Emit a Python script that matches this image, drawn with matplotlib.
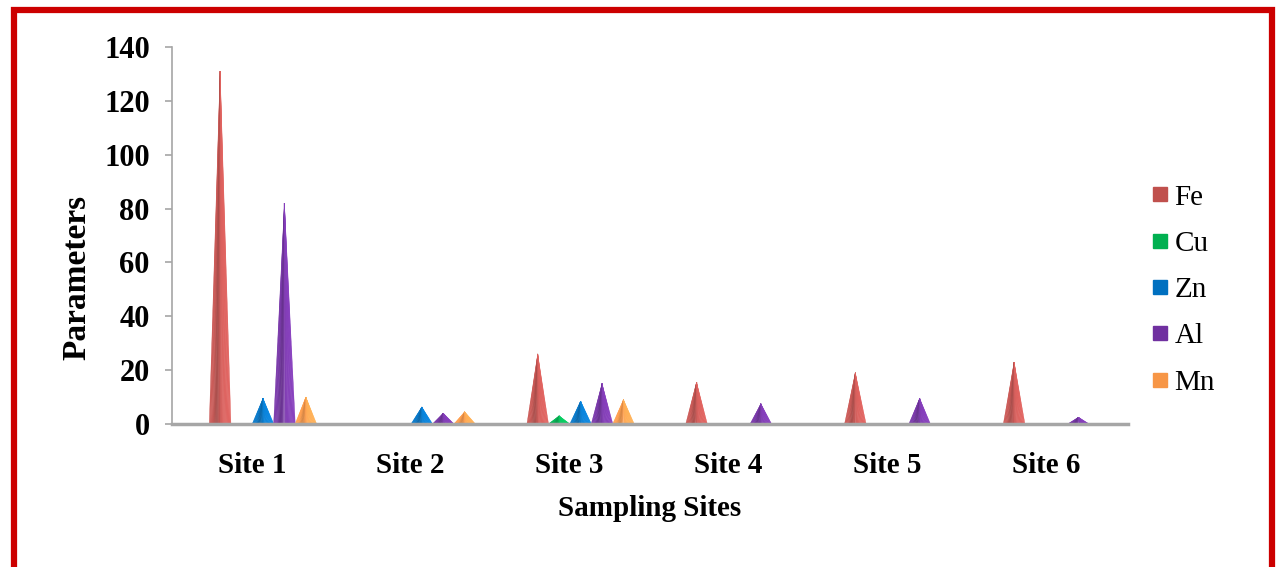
import numpy as np
import matplotlib
matplotlib.use('Agg')
import matplotlib.pyplot as plt
from matplotlib.patches import Polygon, Rectangle
from matplotlib.lines import Line2D
from matplotlib.colors import to_rgb

# data
sites = ['Site 1', 'Site 2', 'Site 3', 'Site 4', 'Site 5', 'Site 6']
metals = ['Fe', 'Cu', 'Zn', 'Al', 'Mn']
fe = [131, 0, 26, 15.5, 19, 23]
cu = [0, 0, 3, 0, 0, 0]
zn = [9.5, 6.3, 8.5, 0, 0, 0]
al = [82, 4, 15, 7.5, 9.5, 2.5]
mn = [10, 4.5, 9, 0, 0, 0]
series = [fe, cu, zn, al, mn]
colors = ['#C0504D', '#00B050', '#0070C0', '#7030A0', '#F79646']

plt.rcParams['font.family'] = 'Liberation Serif'

fig = plt.figure(figsize=(12.77, 5.67), dpi=100)
ax = fig.add_axes([172 / 1277, 1 - 424 / 567, (1128 - 172) / 1277, (424 - 47) / 567])

step = 0.135
half_w = 0.068


def draw_cone(ax, xc, h, color):
    # shaded cone: thin triangles from base strips to the apex
    base = np.array(to_rgb(color))
    n = 24
    edges = np.linspace(xc - half_w, xc + half_w, n + 1)
    for k in range(n):
        t = (k + 0.5) / n * 2 - 1
        f = 1.08 + 0.06 * t - 0.22 * np.exp(-((t + 0.3) / 0.3) ** 2)
        c = np.clip(base * f + 0.03, 0, 1)
        ax.add_patch(Polygon([(edges[k], 0), (edges[k + 1], 0), (xc, h)],
                             closed=True, facecolor=c, edgecolor=c, lw=0.3))


for j, vals in enumerate(series):
    for i, v in enumerate(vals):
        if v > 0:
            draw_cone(ax, i + (j - 2) * step, v, colors[j])

ax.set_xlim(-0.573, 5.447)
ax.set_ylim(0, 140)
ax.set_yticks(range(0, 141, 20))
ax.set_xticks([i - 0.07 for i in range(len(sites))])
ax.set_xticklabels(sites)

for s in ['top', 'right']:
    ax.spines[s].set_visible(False)
ax.spines['left'].set_color('#A6A6A6')
ax.spines['left'].set_linewidth(1.2)
ax.spines['bottom'].set_color('#A6A6A6')
ax.spines['bottom'].set_linewidth(2.5)

ax.tick_params(axis='y', colors='#A6A6A6', length=5, width=1.2, pad=11,
               labelcolor='black', labelsize=22)
ax.tick_params(axis='x', length=0, pad=20, labelsize=21)
for lab in ax.get_xticklabels() + ax.get_yticklabels():
    lab.set_fontweight('bold')

ax.set_xlabel('Sampling Sites', fontsize=21, fontweight='bold', labelpad=12)
ax.set_ylabel('Parameters', fontsize=24, fontweight='bold')
ax.yaxis.set_label_coords((92 - 172) / 956, (424 - 277) / 377)

handles = [Line2D([], [], marker='s', linestyle='none', markersize=10,
                  markerfacecolor=c, markeredgecolor=c) for c in colors]
fig.legend(handles, metals, loc='center left', bbox_to_anchor=(1138 / 1277, 1 - 290 / 567),
           frameon=False, fontsize=21, handlelength=0.5, handletextpad=0.25,
           labelspacing=0.68, borderpad=0)

# red frame round the chart
fig.patches.append(Rectangle((14 / 1277, 1 - 569 / 567), (1271.5 - 14) / 1277, (569 - 9.5) / 567,
                             transform=fig.transFigure, fill=False,
                             edgecolor='#CC0000', linewidth=4.5))

fig.savefig('out.png', dpi=100)
